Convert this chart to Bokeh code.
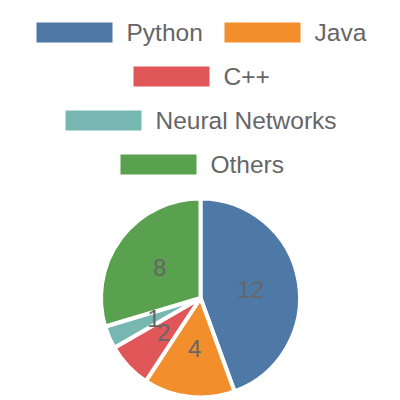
import numpy as np
from bokeh.plotting import figure
from bokeh.models import Range1d, ColumnDataSource
from bokeh.core.properties import value
from bokeh.embed import file_html
from bokeh.resources import INLINE

# ---- data ----
categories = ["Python", "Java", "C++", "Neural Networks", "Others"]
counts = [12, 4, 2, 1, 8]
colors = ["#4e79a7", "#f28e2b", "#e15759", "#76b7b2", "#59a14f"]

# legend layout: rows of category indices, row start (px), row centre y (px)
legend_rows = [[0, 1], [2], [3], [4]]
row_start_x = [36, 133, 65, 120]
row_center_y = [32, 76, 120, 164]

W, H = 384, 396
FONT = "Liberation Sans"
TXT = "#666666"

def fx(px):
    return px

def fy(py):
    return H - py

p = figure(width=W, height=H, output_backend="svg", toolbar_location=None,
           x_range=Range1d(0, W), y_range=Range1d(0, H),
           x_axis_type=None, y_axis_type=None, min_border=0)
p.grid.visible = False
p.outline_line_color = None
p.background_fill_color = "white"

# ---- pie ----
cx, cy, R = fx(200), fy(297.5), 99.5
total = float(sum(counts))
frac = np.array(counts) / total
cum = np.concatenate([[0], np.cumsum(frac)[:-1]])
start = np.pi / 2 - cum * 2 * np.pi
end = start - frac * 2 * np.pi
mid = (start + end) / 2
lr = 0.51 * R

src = ColumnDataSource(dict(
    start=start, end=end, color=colors, cat=categories,
    lx=cx + lr * np.cos(mid), ly=cy + lr * np.sin(mid),
    lab=[str(c) for c in counts],
))
p.wedge(x=cx, y=cy, radius=R, start_angle="start", end_angle="end",
        direction="clock", fill_color="color", line_color="white",
        line_width=4, source=src)
p.text(x="lx", y="ly", text="lab", source=src, text_align="center",
       text_baseline="middle", text_font=value(FONT), text_font_size="24px",
       text_color=TXT)

# ---- legend ----
SW_W, SW_H, GAP, ITEM_GAP = 76, 20, 14, 24
char_w = {"Python": 74, "Java": 51}
sx, sy, tx, ty, tl, sc = [], [], [], [], [], []
for row, x0, yc in zip(legend_rows, row_start_x, row_center_y):
    x = x0
    for i in row:
        sx.append(fx(x + SW_W / 2)); sy.append(fy(yc)); sc.append(colors[i])
        tx.append(fx(x + SW_W + GAP)); ty.append(fy(yc)); tl.append(categories[i])
        x = x + SW_W + GAP + char_w.get(categories[i], 0) + ITEM_GAP
p.rect(x=sx, y=sy, width=SW_W, height=SW_H, fill_color=sc, line_color=None)
p.text(x=tx, y=ty, text=tl, text_align="left", text_baseline="middle",
       text_font=value(FONT), text_font_size="24.5px", text_color=TXT)

open("out.html", "w").write(file_html(p, INLINE))
